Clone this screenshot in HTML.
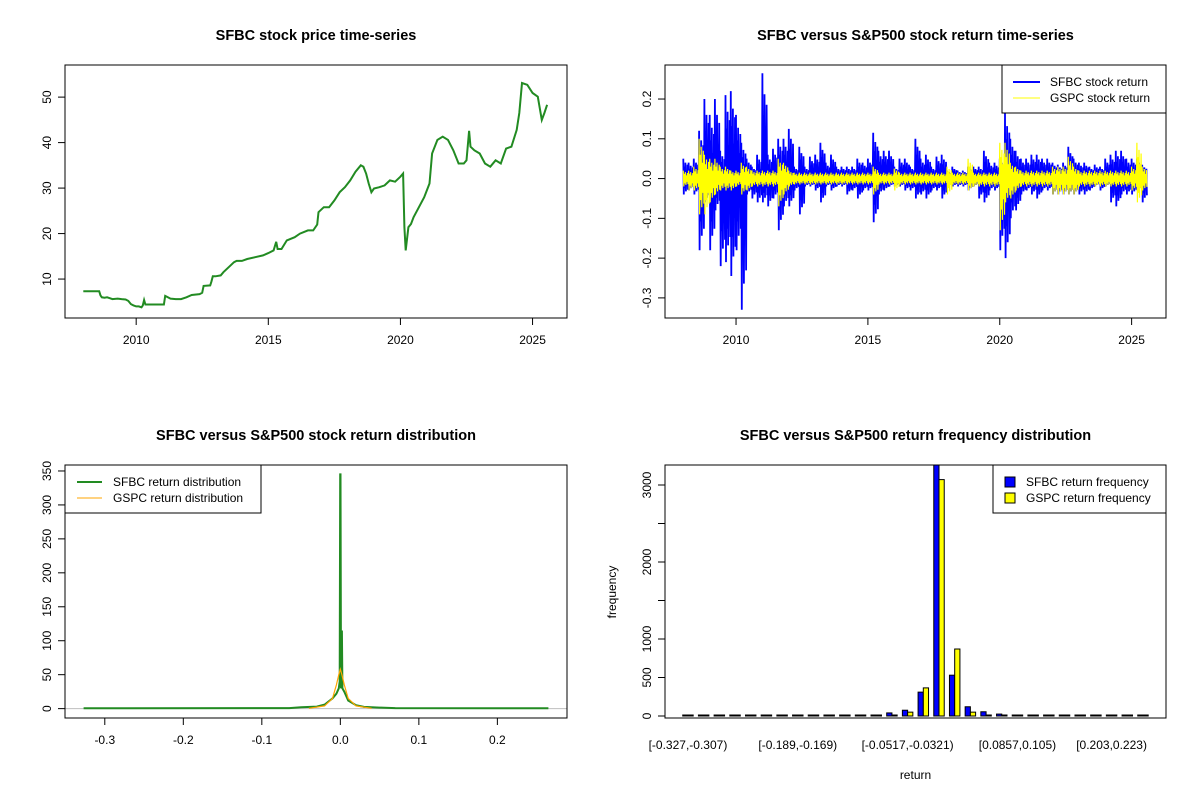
<!DOCTYPE html>
<html><head><meta charset="utf-8"><title>SFBC charts</title>
<style>
html,body{margin:0;padding:0;background:#fff;}
svg{display:block;font-family:"Liberation Sans",Arial,sans-serif;}
</style></head>
<body>
<svg id="chart" width="1200" height="800" viewBox="0 0 1200 800" xmlns="http://www.w3.org/2000/svg"></svg>
<script>
// ---------- DATA ----------
// Panel 1: price series (decimal year, price)
const priceYears = [2008.0,2008.3,2008.6,2008.65,2008.7,2008.8,2008.9,2009.0,2009.1,2009.3,2009.45,2009.6,2009.7,2009.8,2009.9,2010.0,2010.1,2010.2,2010.25,2010.3,2010.35,2010.6,2011.05,2011.1,2011.3,2011.5,2011.7,2011.9,2012.1,2012.4,2012.5,2012.55,2012.8,2012.85,2012.9,2013.0,2013.2,2013.3,2013.5,2013.7,2013.8,2014.0,2014.2,2014.5,2014.8,2015.0,2015.2,2015.3,2015.35,2015.5,2015.7,2016.0,2016.2,2016.5,2016.7,2016.85,2016.9,2017.1,2017.3,2017.5,2017.7,2017.9,2018.1,2018.3,2018.5,2018.6,2018.7,2018.8,2018.9,2019.0,2019.2,2019.4,2019.6,2019.8,2020.0,2020.1,2020.15,2020.2,2020.3,2020.4,2020.5,2020.7,2020.9,2021.1,2021.2,2021.4,2021.6,2021.8,2022.0,2022.2,2022.4,2022.5,2022.6,2022.65,2022.8,2023.0,2023.2,2023.4,2023.6,2023.8,2024.0,2024.2,2024.4,2024.5,2024.6,2024.8,2025.0,2025.2,2025.35,2025.45,2025.55];
const priceValues = [7.3,7.3,7.3,6.4,6.0,5.9,6.0,5.8,5.6,5.7,5.6,5.5,5.2,4.5,4.2,4.0,4.0,3.8,4.2,5.4,4.4,4.4,4.4,6.3,5.7,5.6,5.6,6.0,6.5,6.7,7.0,8.5,8.6,9.5,10.6,10.6,10.8,11.5,12.6,13.7,14.0,14.0,14.4,14.8,15.2,15.7,16.3,18.2,16.6,16.6,18.5,19.2,20.0,20.7,20.7,22.0,24.7,25.8,25.8,27.3,29.1,30.2,31.7,33.6,35.0,34.7,33.2,31.0,29.1,29.9,30.2,30.6,31.7,31.4,32.5,33.2,21.4,16.3,21.4,22.1,23.6,25.8,28.0,31.0,37.6,40.6,41.3,40.6,38.3,35.4,35.4,36.1,42.6,39.1,38.3,37.6,35.4,34.7,36.1,35.4,38.7,39.1,42.8,46.5,53.1,52.7,50.9,50.1,45.0,46.5,48.3];
const priceYTicks = [10,20,30,40,50];
const yearTicks = [2010,2015,2020,2025];

// Panel 2: per-bucket (0.2 yr from 2008.0) return envelopes
const bucketStart = 2008.0, bucketStep = 0.2;
const sfbcHi = [.05,.04,.05,.12,.20,.16,.20,.07,.21,.22,.16,.09,.05,.03,.06,.265,.06,.075,.10,.10,.125,.03,.08,.03,.055,.06,.09,.04,.06,.03,.03,.03,.03,.05,.04,.05,.115,.07,.07,.07,.03,.05,.05,.03,.10,.05,.06,.03,.055,.06,.02,.03,.02,.02,.03,.03,.03,.07,.04,.04,.05,.165,.10,.07,.05,.05,.06,.06,.05,.05,.04,.035,.04,.08,.05,.04,.04,.03,.035,.03,.05,.06,.07,.07,.05,.05,.05,.035];
const sfbcLo = [-.04,-.03,-.04,-.18,-.06,-.18,-.08,-.22,-.21,-.245,-.18,-.33,-.04,-.05,-.06,-.06,-.07,-.05,-.13,-.07,-.07,-.03,-.09,-.02,-.02,-.03,-.06,-.02,-.03,-.02,-.02,-.04,-.03,-.05,-.03,-.03,-.11,-.04,-.03,-.02,-.02,-.02,-.03,-.03,-.05,-.04,-.05,-.03,-.03,-.05,-.02,-.02,-.02,-.02,-.03,-.02,-.05,-.06,-.03,-.03,-.18,-.20,-.10,-.08,-.04,-.03,-.04,-.05,-.03,-.03,-.04,-.04,-.04,-.04,-.04,-.04,-.04,-.03,-.02,-.03,-.02,-.06,-.07,-.04,-.04,-.04,-.03,-.06];
const gspcHi = [.02,.02,.03,.10,.06,.05,.05,.03,.03,.02,.02,.04,.03,.02,.02,.02,.02,.02,.05,.04,.02,.015,.015,.015,.015,.015,.015,.015,.015,.015,.015,.015,.015,.015,.015,.015,.03,.015,.015,.015,.025,.015,.015,.015,.015,.015,.015,.015,.015,.015,.03,.015,.015,.015,.05,.015,.015,.015,.015,.015,.09,.09,.04,.03,.02,.02,.02,.02,.02,.02,.03,.03,.03,.055,.03,.02,.02,.02,.02,.02,.02,.02,.02,.02,.02,.03,.09,.03];
const gspcLo = [-.02,-.03,-.03,-.09,-.09,-.06,-.04,-.03,-.03,-.03,-.02,-.04,-.03,-.02,-.02,-.02,-.02,-.02,-.07,-.04,-.02,-.015,-.015,-.015,-.015,-.015,-.015,-.015,-.015,-.015,-.015,-.015,-.015,-.015,-.015,-.015,-.04,-.015,-.015,-.015,-.03,-.015,-.015,-.015,-.015,-.015,-.015,-.015,-.015,-.015,-.04,-.015,-.015,-.015,-.03,-.02,-.02,-.02,-.02,-.02,-.13,-.06,-.05,-.03,-.02,-.02,-.02,-.02,-.02,-.02,-.04,-.04,-.04,-.04,-.04,-.02,-.02,-.02,-.02,-.02,-.02,-.02,-.02,-.02,-.02,-.03,-.06,-.03];
const retYTicks = [-0.3,-0.2,-0.1,0.0,0.1,0.2];
const retYLabels = ["-0.3","-0.2","-0.1","0.0","0.1","0.2"];

// Panel 3: densities
const sfbcDensX = [-0.327,-0.065,-0.05,-0.03,-0.02,-0.01,-0.005,-0.002,-0.0008,-0.0002,0.0002,0.0008,0.0015,0.002,0.0026,0.005,0.01,0.02,0.03,0.05,0.07,0.265];
const sfbcDensY = [0.5,0.8,2,3,6,15,22,30,40,345,345,30,32,115,30,25,12,5,2.5,1.5,0.8,0.5];
const gspcDensX = [-0.04,-0.02,-0.01,-0.005,-0.002,0,0.002,0.005,0.01,0.02,0.04];
const gspcDensY = [0.5,4,15,35,50,58,50,35,15,4,0.5];
const densXTicks = [-0.3,-0.2,-0.1,0.0,0.1,0.2];
const densXLabels = ["-0.3","-0.2","-0.1","0.0","0.1","0.2"];
const densYTicks = [0,50,100,150,200,250,300,350];

// Panel 4: histogram (30 bins)
const binLabels = {0:"[-0.327,-0.307)",7:"[-0.189,-0.169)",14:"[-0.0517,-0.0321)",21:"[0.0857,0.105)",27:"[0.203,0.223)"};
const sfbcFreq = [0,0,0,0,0,0,10,10,0,0,0,10,8,40,75,310,3300,530,120,55,25,12,10,10,3,10,3,10,0,0];
const gspcFreq = [0,0,0,0,0,0,0,0,0,0,0,0,0,12,50,365,3070,870,50,12,10,0,0,0,0,0,0,0,0,0];
const freqTicks = [0,500,1000,1500,2000,2500,3000];
const freqLabelShown = [true,true,true,false,true,false,true];

// ---------- HELPERS ----------
const NS = "http://www.w3.org/2000/svg";
const svg = document.getElementById("chart");
function mk(tag, attrs, parent){
  const e = document.createElementNS(NS, tag);
  for (const k in attrs) e.setAttribute(k, attrs[k]);
  (parent||svg).appendChild(e);
  return e;
}
function txt(s, x, y, attrs, parent){
  const e = mk("text", Object.assign({x:x, y:y, "font-size":12, fill:"#000"}, attrs||{}), parent);
  e.textContent = s;
  return e;
}
function lin(d0, d1, r0, r1){ return v => r0 + (v - d0) / (d1 - d0) * (r1 - r0); }

function panel(name){
  const g = mk("g", {});
  
  
  return g;
}
function box(g, L, T, R, B){
  const r = mk("rect", {x:L, y:T, width:R-L, height:B-T, fill:"none", stroke:"#000", "stroke-width":1}, g);
  
  
}
function title(g, s, cx, y){
  const t = txt(s, cx, y, {"font-size":14.5, "font-weight":"bold", "text-anchor":"middle"}, g);
  
  
}
function xAxis(g, ticks, labels, sx, B){
  const a = mk("g", {}, g);
  
  
  mk("line", {x1:sx(ticks[0]), x2:sx(ticks[ticks.length-1]), y1:B, y2:B, stroke:"#000"}, a);
  ticks.forEach((t,i)=>{
    mk("line", {x1:sx(t), x2:sx(t), y1:B, y2:B+7, stroke:"#000"}, a);
    const l = txt(labels[i], sx(t), B+26, {"text-anchor":"middle"}, a);
    
    
  });
}
function yAxis(g, ticks, labels, sy, L, shown){
  const a = mk("g", {}, g);
  
  
  mk("line", {x1:L, x2:L, y1:sy(ticks[0]), y2:sy(ticks[ticks.length-1]), stroke:"#000"}, a);
  ticks.forEach((t,i)=>{
    mk("line", {x1:L-7, x2:L, y1:sy(t), y2:sy(t), stroke:"#000"}, a);
    if (shown && !shown[i]) return;
    const x = L-14, y = sy(t);
    const l = txt(labels[i], x, y, {"text-anchor":"middle", transform:`rotate(-90 ${x} ${y})`}, a);
    
    
  });
}
function clip(id, L, T, R, B){
  const d = mk("clipPath", {id:id});
  mk("rect", {x:L, y:T, width:R-L, height:B-T}, d);
}

// ---------- PANEL 1: price ----------
(function(){
  const L=65,T=65,R=567,B=318;
  const g = panel("price-panel");
  const sx = lin(2008.01, 2025.6, L + 0.04/1.08*(R-L), R - 0.04/1.08*(R-L));
  const pmin = 3.5, pmax = 55;
  const sy = lin(pmin, pmax, B - 0.04/1.08*(B-T), T + 0.04/1.08*(B-T));
  title(g, "SFBC stock price time-series", (L+R)/2, 40);
  clip("c1", L, T, R, B);
  const pts = priceYears.map((t,i)=>sx(t).toFixed(1)+","+sy(priceValues[i]).toFixed(1)).join(" ");
  const p = mk("polyline", {points:pts, fill:"none", stroke:"#228B22", "stroke-width":2, "clip-path":"url(#c1)"}, g);
  
  
  box(g, L, T, R, B);
  xAxis(g, yearTicks, yearTicks.map(String), sx, B);
  yAxis(g, priceYTicks, priceYTicks.map(String), sy, L);
})();

// ---------- PANEL 2: returns ----------
(function(){
  const L=665,T=65,R=1166,B=318;
  const g = panel("return-timeseries-panel");
  const sx = lin(2008.01, 2025.6, L + 0.04/1.08*(R-L), R - 0.04/1.08*(R-L));
  const sy = lin(-0.327, 0.262, B - 0.04/1.08*(B-T), T + 0.04/1.08*(B-T));
  title(g, "SFBC versus S&P500 stock return time-series", (L+R)/2, 40);
  clip("c2", L, T, R, B);
  const shape = [1, 0.6, 0.8, 0.4, 0.7];   // rendering amplitudes within a bucket
  function zig(hi, lo){
    const pts = [];
    hi.forEach((h,i)=>{
      const t = bucketStart + i*bucketStep;
      const l = lo[i];
      shape.forEach((f,j)=>{
        pts.push([t + j*0.04, h*f], [t + j*0.04 + 0.02, l*f]);
      });
    });
    return pts.map(p=>sx(p[0]).toFixed(1)+","+sy(p[1]).toFixed(1)).join(" ");
  }
  const a = mk("polyline", {points:zig(sfbcHi, sfbcLo), fill:"none", stroke:"#0000FF", "stroke-width":1.8, "clip-path":"url(#c2)"}, g);
  
  
  const b = mk("polyline", {points:zig(gspcHi, gspcLo), fill:"none", stroke:"#FFFF00", "stroke-width":1.2, "clip-path":"url(#c2)"}, g);
  
  
  box(g, L, T, R, B);
  xAxis(g, yearTicks, yearTicks.map(String), sx, B);
  yAxis(g, retYTicks, retYLabels, sy, L);
  const lg = mk("g", {}, g);
  
  
  mk("rect", {x:1002, y:65, width:164, height:48, fill:"#fff", stroke:"#000"}, lg);
  mk("line", {x1:1013, x2:1040, y1:82, y2:82, stroke:"#0000FF", "stroke-width":2}, lg);
  mk("line", {x1:1013, x2:1040, y1:98, y2:98, stroke:"#FFFF00", "stroke-width":1}, lg);
  txt("SFBC stock return", 1050, 86, {}, lg);
  txt("GSPC stock return", 1050, 102, {}, lg);
})();

// ---------- PANEL 3: density ----------
(function(){
  const L=65,T=465,R=567,B=718;
  const g = panel("return-distribution-panel");
  const sx = lin(-0.327, 0.265, L + 0.04/1.08*(R-L), R - 0.04/1.08*(R-L));
  const sy = lin(0, 345, B - 0.04/1.08*(B-T), T + 0.04/1.08*(B-T));
  title(g, "SFBC versus S&P500 stock return distribution", (L+R)/2, 440);
  clip("c3", L, T, R, B);
  const h = mk("line", {x1:L, x2:R, y1:sy(0), y2:sy(0), stroke:"#BEBEBE", "stroke-width":1}, g);
  
  
  const pg = gspcDensX.map((x,i)=>sx(x).toFixed(1)+","+sy(gspcDensY[i]).toFixed(1)).join(" ");
  const ps = sfbcDensX.map((x,i)=>sx(x).toFixed(1)+","+sy(sfbcDensY[i]).toFixed(1)).join(" ");
  const a = mk("polyline", {points:ps, fill:"none", stroke:"#228B22", "stroke-width":2, "clip-path":"url(#c3)"}, g);
  
  
  const b = mk("polyline", {points:pg, fill:"none", stroke:"#FFA500", "stroke-width":1.2, "clip-path":"url(#c3)"}, g);
  
  
  box(g, L, T, R, B);
  xAxis(g, densXTicks, densXLabels, sx, B);
  yAxis(g, densYTicks, densYTicks.map(String), sy, L);
  const lg = mk("g", {}, g);
  
  
  mk("rect", {x:65, y:465, width:196, height:48, fill:"#fff", stroke:"#000"}, lg);
  mk("line", {x1:77, x2:102, y1:482, y2:482, stroke:"#228B22", "stroke-width":2}, lg);
  mk("line", {x1:77, x2:102, y1:498, y2:498, stroke:"#FFA500", "stroke-width":1}, lg);
  txt("SFBC return distribution", 113, 486, {}, lg);
  txt("GSPC return distribution", 113, 502, {}, lg);
})();

// ---------- PANEL 4: histogram ----------
(function(){
  const L=665,T=465,R=1166,B=718;
  const g = panel("return-frequency-panel");
  const u = 5.23;                       // px per bar-unit
  const bx = v => 677.5 + v*u;
  const sy = lin(0, 3000, 716, 485);
  title(g, "SFBC versus S&P500 return frequency distribution", (L+R)/2, 440);
  clip("c4", L, T, R, B);
  const bars = mk("g", {"clip-path":"url(#c4)"}, g);
  
  
  function bar(x0, v, fill, name){
    const top = Math.min(sy(v), sy(0) - 1);
    const r = mk("rect", {x:x0, y:top, width:u, height:sy(0)-top, fill:fill, stroke:"#000", "stroke-width":1}, bars);
    
    
  }
  sfbcFreq.forEach((v,i)=>{
    const x0 = bx(1 + 3*i);
    bar(x0, v, "#0000FF", 'sfbc-freq-bar');
    bar(x0+u, gspcFreq[i], "#FFFF00", 'gspc-freq-bar');
  });
  box(g, L, T, R, B);
  Object.keys(binLabels).forEach(k=>{
    const i = +k;
    const l = txt(binLabels[k], bx(2 + 3*i), 749, {"text-anchor":"middle"}, g);
    
    
  });
  yAxis(g, freqTicks, freqTicks.map(String), sy, L, freqLabelShown);
  const xt = txt("return", (L+R)/2, 779, {"text-anchor":"middle"}, g);
  
  
  const yt = txt("frequency", 616, 592, {"text-anchor":"middle", transform:"rotate(-90 616 592)"}, g);
  
  
  const lg = mk("g", {}, g);
  
  
  mk("rect", {x:993, y:465, width:173, height:48, fill:"#fff", stroke:"#000"}, lg);
  mk("rect", {x:1005, y:477, width:10, height:10, fill:"#0000FF", stroke:"#000"}, lg);
  mk("rect", {x:1005, y:493, width:10, height:10, fill:"#FFFF00", stroke:"#000"}, lg);
  txt("SFBC return frequency", 1026, 486, {}, lg);
  txt("GSPC return frequency", 1026, 502, {}, lg);
})();
</script>
</body></html>
